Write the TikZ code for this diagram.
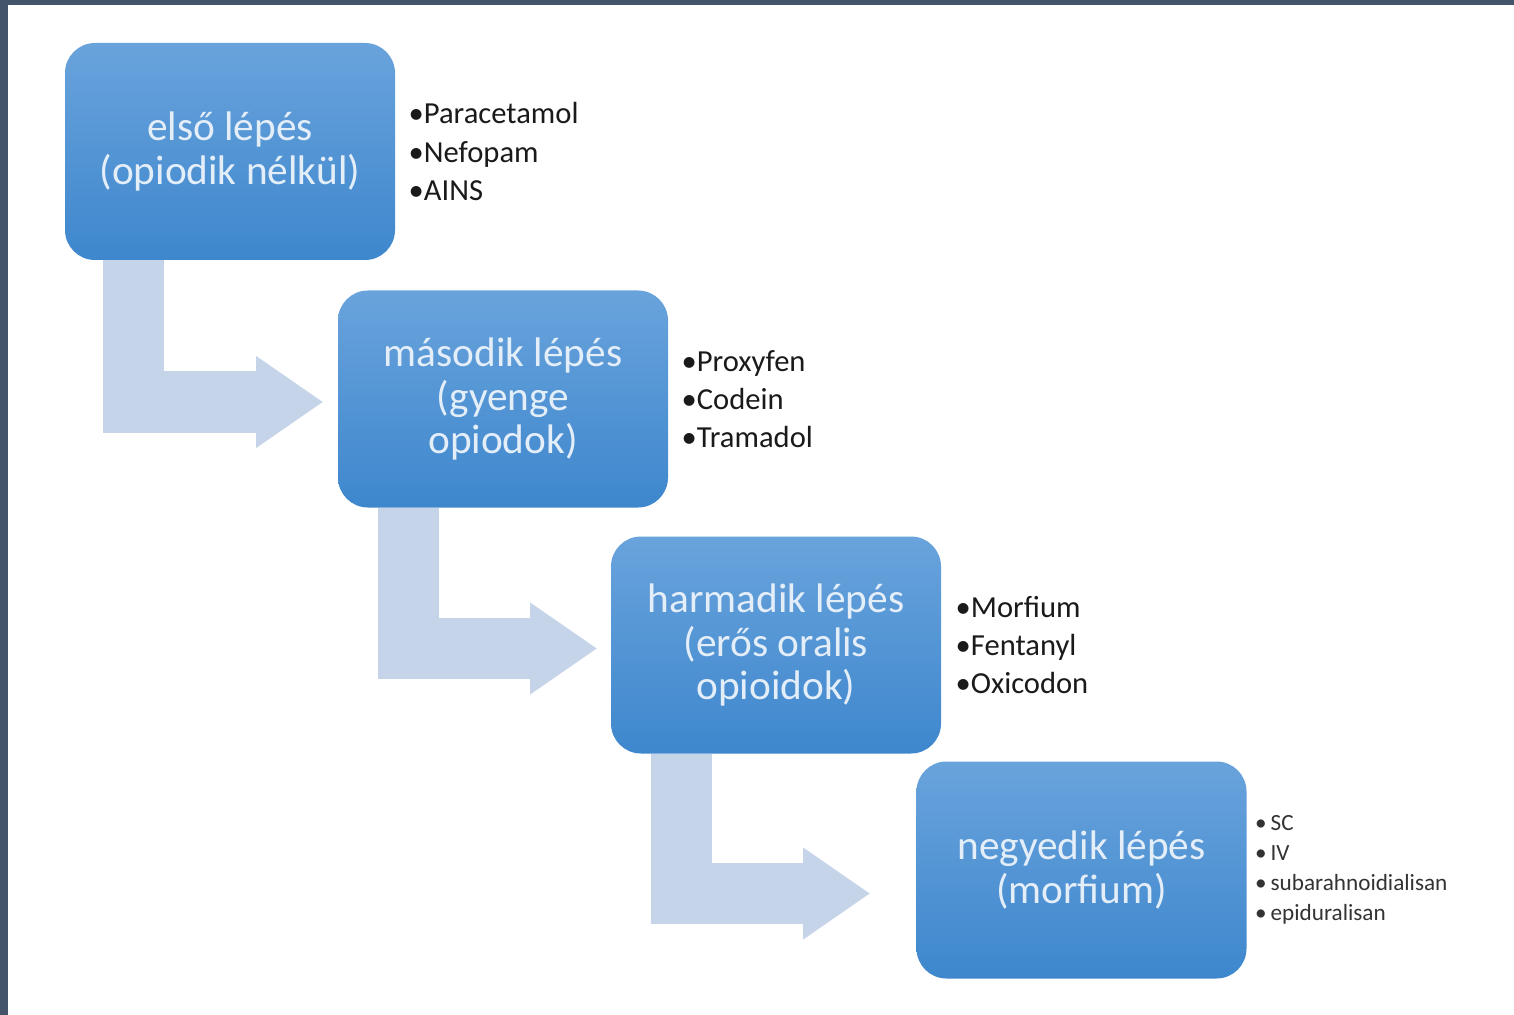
\documentclass[tikz,border=0pt]{standalone}
\usepackage{fontspec}
\setmainfont{Carlito}
\usetikzlibrary{arrows.meta, calc, positioning}
\definecolor{frameblue}{HTML}{44546A}
\definecolor{steptop}{HTML}{69A3DC}
\definecolor{stepbot}{HTML}{3E87CD}
\definecolor{steptext}{HTML}{E4EEF9}
\definecolor{bendblue}{HTML}{C6D4EA}
\definecolor{drugdark}{HTML}{1A1A1A}
\definecolor{druggray}{HTML}{333333}

\begin{document}
\begin{tikzpicture}[
    stepbox/.style={rounded corners=0.6cm, top color=steptop, bottom color=stepbot,
                    minimum width=6.6cm, minimum height=4.34cm, inner sep=0pt,
                    text=steptext, align=center,
                    font=\fontsize{23.5}{25}\selectfont},
    druglist/.style={align=left, inner sep=0pt, text=drugdark,
                     font=\fontsize{17.4}{21.8}\selectfont},
    bendarrow/.style={draw=bendblue, line width=1.22cm,
                      -{Triangle[length=1.33cm, width=1.84cm, line width=0pt]}},
  ]

  % Background and frame
  \useasboundingbox (0,0) rectangle (30.28,-20.3);
  \fill[white] (0,0) rectangle (30.28,-20.3);
  \fill[frameblue] (0,0) rectangle (30.28,-0.1);
  \fill[frameblue] (0,0) rectangle (0.16,-20.3);

  % --- Steps ---
  \node[stepbox] (s1) at (4.60,-3.03)  {első lépés\\(opiodik nélkül)};
  \node[stepbox] (s2) at (10.06,-7.98) {második lépés\\(gyenge\\opiodok)};
  \node[stepbox] (s3) at (15.52,-12.90) {harmadik lépés\\(erős oralis\\opioidok)};
  \node[stepbox] (s4) at (21.63,-17.40) {negyedik lépés\\(morfium)};

  % --- Drug lists (right of steps) ---
  \node[druglist, right=0.26cm of s1] (l1) {•Paracetamol\\•Nefopam\\•AINS};
  \node[druglist, right=0.26cm of s2] (l2) {•Proxyfen\\•Codein\\•Tramadol};
  \node[druglist, right=0.28cm of s3] (l3) {•Morfium\\•Fentanyl\\•Oxicodon};
  \node[druglist, right=0.16cm of s4, text=druggray,
        font=\fontsize{13.2}{17}\selectfont] (l4)
    {•\,SC\\•\,IV\\•\,subarahnoidialisan\\•\,epiduralisan};

  % --- Bent arrows between steps ---
  \draw[bendarrow] ($(s1.south west)+(1.38,0)$) |- ($(s2.west)+(-0.30,-0.06)$);
  \draw[bendarrow] ($(s2.south west)+(1.41,0)$) |- ($(s3.west)+(-0.28,-0.07)$);
  \draw[bendarrow] ($(s3.south west)+(1.41,0)$) |- ($(s4.west)+(-0.93,-0.47)$);

\end{tikzpicture}
\end{document}
